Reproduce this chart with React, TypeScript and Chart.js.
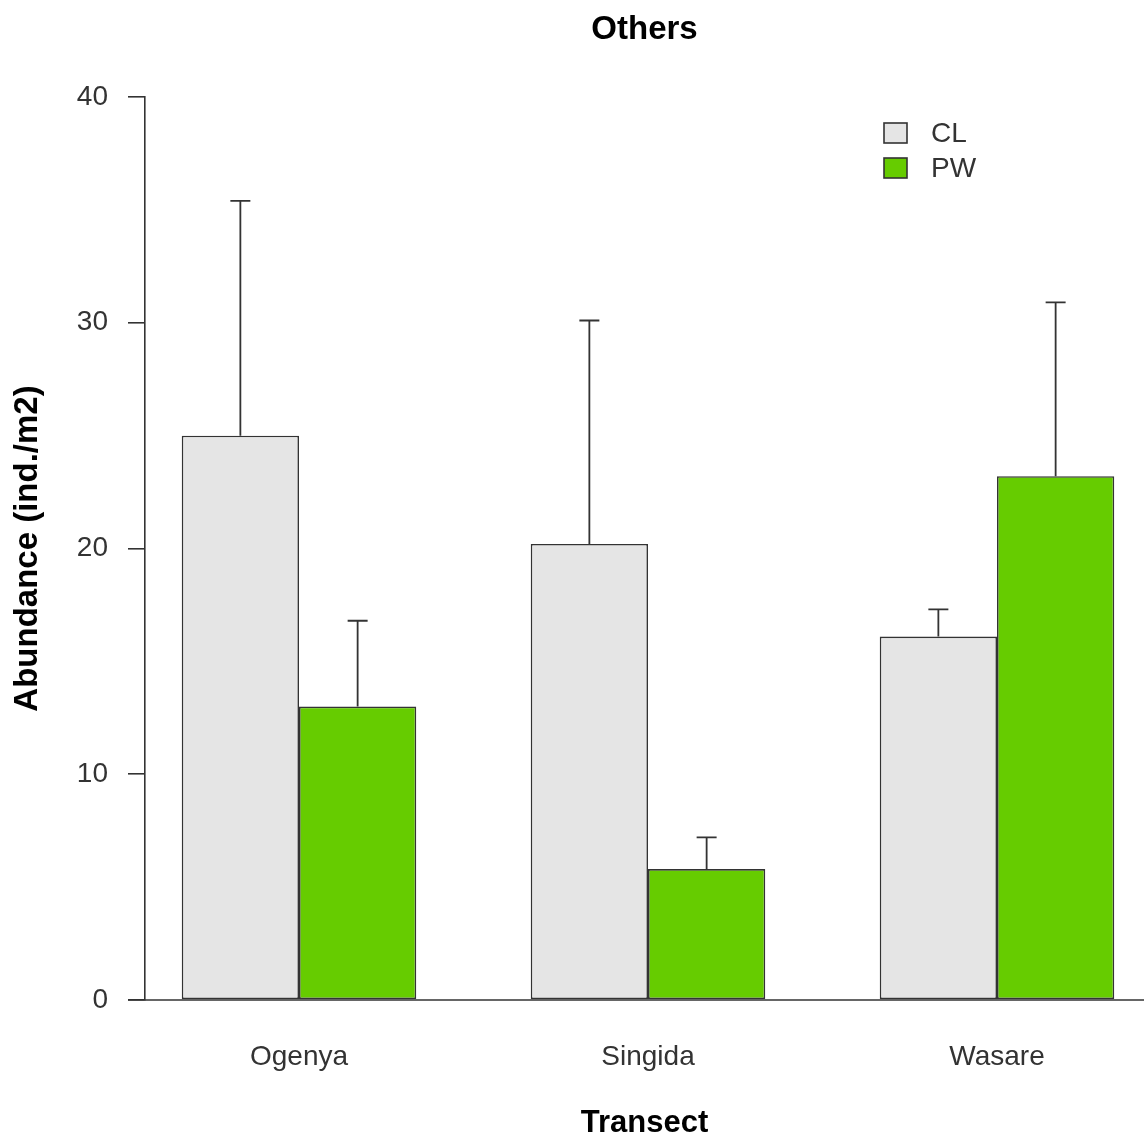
import React, { useEffect, useRef } from "react";
import { Chart, registerables } from "chart.js";

Chart.register(...registerables);

const categories = ["Ogenya", "Singida", "Wasare"];
const seriesNames = ["CL", "PW"];
const clValues = [25.0, 20.2, 16.1];
const pwValues = [13.0, 5.8, 23.2];
const clErrors = [10.4, 9.9, 1.2];
const pwErrors = [3.8, 1.4, 7.7];
const yTicks = [0, 10, 20, 30, 40];
const chartTitle = "Others";
const xTitle = "Transect";
const yTitle = "Abundance (ind./m2)";

const FONT = "'Liberation Sans', Arial, sans-serif";
const INK = "#333333";

const errorBarPlugin = {
  id: "errorBars",
  beforeDatasetsDraw(chart: any) {
    const { ctx, scales } = chart;
    const y0 = scales.y.getPixelForValue(0);
    ctx.save();
    ctx.strokeStyle = INK;
    ctx.lineWidth = 1.6;
    ctx.beginPath();
    ctx.moveTo(128, y0);
    ctx.lineTo(chart.width, y0);
    ctx.stroke();
    ctx.restore();
  },
  afterDatasetsDraw(chart: any) {
    const { ctx, scales } = chart;
    ctx.save();
    ctx.strokeStyle = INK;
    ctx.lineWidth = 1.8;
    chart.data.datasets.forEach((ds: any, di: number) => {
      const meta = chart.getDatasetMeta(di);
      meta.data.forEach((el: any, i: number) => {
        const v = ds.data[i].y;
        const e = ds.errors[i];
        const top = scales.y.getPixelForValue(v + e);
        ctx.beginPath();
        ctx.moveTo(el.x, el.y);
        ctx.lineTo(el.x, top);
        ctx.moveTo(el.x - 10, top);
        ctx.lineTo(el.x + 10, top);
        ctx.stroke();
      });
    });
    ctx.restore();
  },
  afterDraw(chart: any) {
    const { ctx } = chart;
    ctx.save();
    ctx.font = `28px ${FONT}`;
    ctx.textBaseline = "middle";
    ctx.textAlign = "left";
    chart.data.datasets.forEach((ds: any, di: number) => {
      const yc = 133 + di * 35;
      ctx.fillStyle = ds.backgroundColor;
      ctx.fillRect(884, yc - 10, 23, 20);
      ctx.strokeStyle = INK;
      ctx.lineWidth = 1.6;
      ctx.strokeRect(884, yc - 10, 23, 20);
      ctx.fillStyle = INK;
      ctx.fillText(ds.label, 931, yc + 1);
    });
    ctx.restore();
  },
};

export default function App() {
  const ref = useRef<HTMLCanvasElement>(null);
  useEffect(() => {
    if (!ref.current) return;
    const mk = (vals: number[]) => vals.map((v, i) => ({ x: i + 1, y: v }));
    const chart = new Chart(ref.current, {
      type: "bar",
      data: {
        datasets: [
          {
            label: seriesNames[0],
            data: mk(clValues),
            errors: clErrors,
            backgroundColor: "#e5e5e5",
            borderColor: INK,
            borderWidth: 1.6,
            borderSkipped: false,
          } as any,
          {
            label: seriesNames[1],
            data: mk(pwValues),
            errors: pwErrors,
            backgroundColor: "#66cc00",
            borderColor: INK,
            borderWidth: 1.6,
            borderSkipped: false,
          } as any,
        ],
      },
      options: {
        responsive: false,
        animation: false,
        devicePixelRatio: 1,
        categoryPercentage: 0.672,
        barPercentage: 1,
        layout: { padding: 0 },
        plugins: {
          legend: { display: false },
          tooltip: { enabled: false },
          title: {
            display: true,
            fullSize: false,
            text: chartTitle,
            color: "#000",
            font: { family: FONT, size: 33, weight: "bold", lineHeight: 1.2 },
            padding: { top: 10, bottom: 47.4 },
          },
        },
        scales: {
          x: {
            type: "linear",
            offset: false,
            min: 1 - 154 / 349,
            max: 1 - 154 / 349 + 999 / 349,
            afterFit: (s: any) => {
              s.height = 139;
            },
            afterBuildTicks: (s: any) => {
              s.ticks = categories.map((_, i) => ({ value: i + 1 }));
            },
            grid: { display: false, drawTicks: false, offset: false },
            border: { display: false },
            ticks: {
              autoSkip: false,
              maxRotation: 0,
              padding: 40,
              color: INK,
              font: { family: FONT, size: 28 },
              callback: (v: any) => categories[Math.round(v) - 1] ?? "",
            },
            title: {
              display: true,
              text: xTitle,
              color: "#000",
              font: { family: FONT, size: 31, weight: "bold", lineHeight: 1 },
              padding: { top: 0, bottom: 0 },
            },
          },
          y: {
            min: 0,
            max: 40,
            afterFit: (s: any) => {
              s.width = 145;
            },
            afterBuildTicks: (s: any) => {
              s.ticks = yTicks.map((v) => ({ value: v }));
            },
            grid: {
              drawOnChartArea: false,
              drawTicks: true,
              tickLength: 17,
              color: INK,
              lineWidth: 1.6,
            },
            border: { display: true, color: INK, width: 1.6 },
            ticks: {
              padding: 20,
              color: INK,
              font: { family: FONT, size: 28 },
            },
            title: {
              display: true,
              text: yTitle,
              color: "#000",
              font: { family: FONT, size: 33, weight: "bold", lineHeight: 1.2 },
              padding: { top: 8, bottom: 0 },
            },
          },
        },
      } as any,
      plugins: [errorBarPlugin],
    });
    return () => chart.destroy();
  }, []);
  return (
    <div style={{ position: "fixed", left: 0, top: 0, width: 1144, height: 1139, background: "#fff" }}>
      <canvas ref={ref} width={1144} height={1139} style={{ display: "block" }} />
    </div>
  );
}
